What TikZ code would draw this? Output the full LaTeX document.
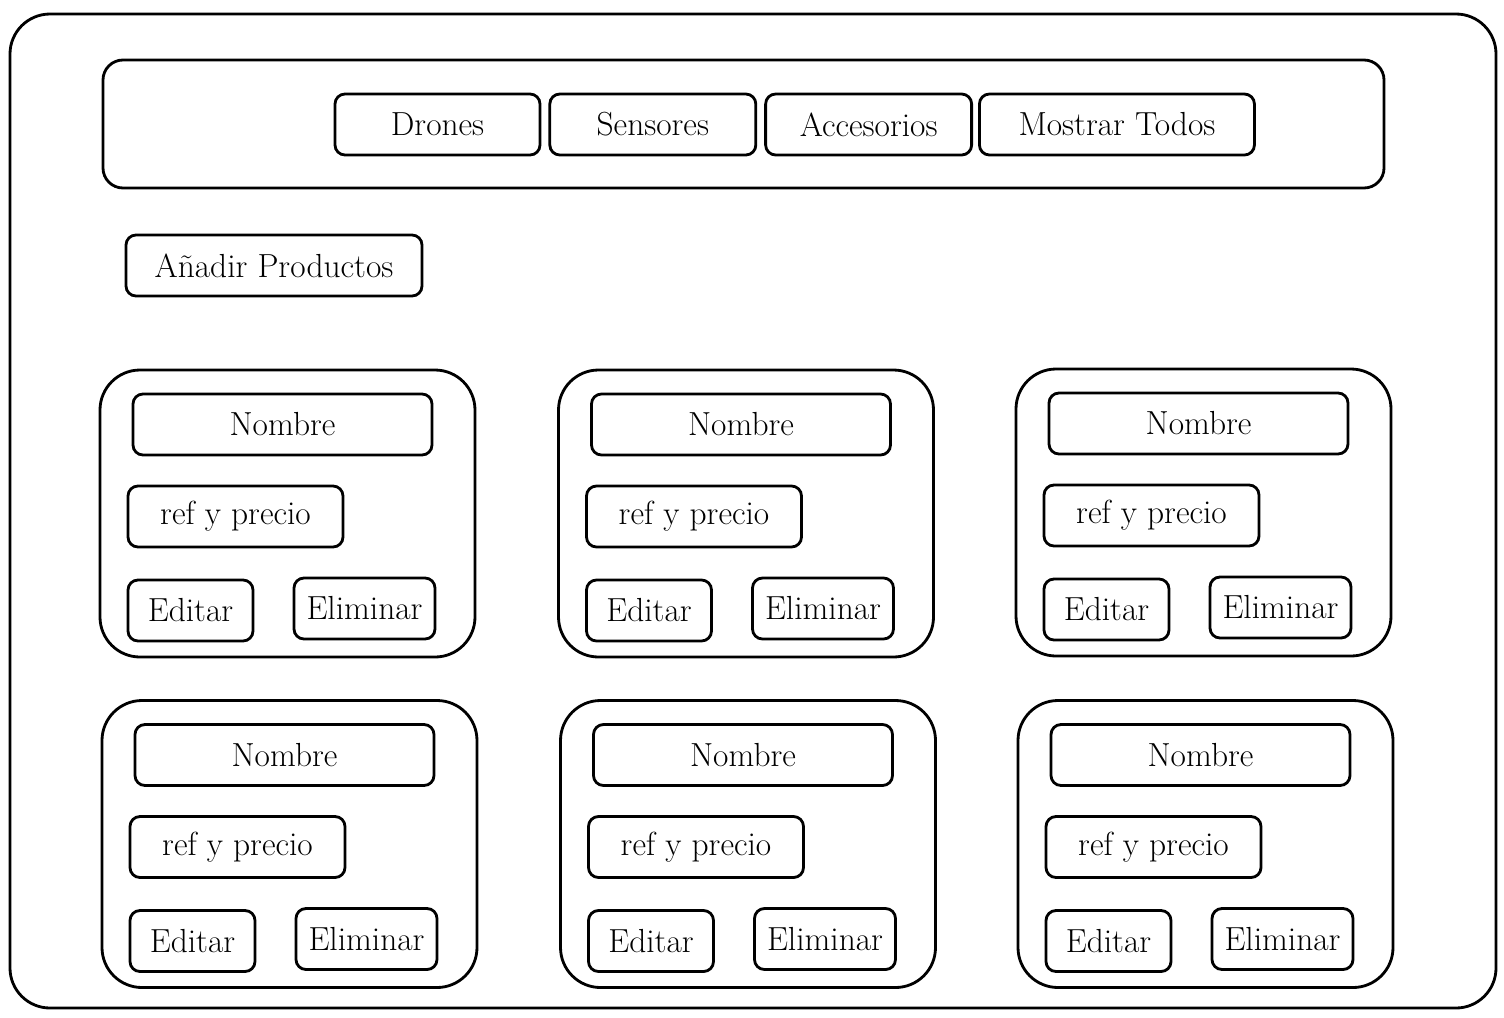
\documentclass[tikz,border=0pt]{standalone}
\usepackage{tikz}
\usetikzlibrary{positioning}
\tikzset{
  panel/.style={rectangle, draw, line width=1.6pt, rounded corners=0.8cm, inner sep=0pt},
  btn/.style={rectangle, draw, line width=1.6pt, rounded corners=0.2cm, minimum height=1.22cm, inner sep=0pt, align=center, font=\fontsize{19}{22}\selectfont},
}

\begin{document}
\begin{tikzpicture}
    \useasboundingbox (0,0) rectangle (30.08,-20.34);
    \node[panel, minimum width=29.72cm, minimum height=19.88cm] (frame) at (15.06,-10.22) {};
    \node[panel, rounded corners=0.4cm, minimum width=25.62cm, minimum height=2.56cm] (navbar) at (14.87,-2.48) {};
    \node[btn, minimum width=4.1cm] (drones) at (8.75,-2.49) {Drones};
    \node[btn, minimum width=4.12cm, right=0.14cm of drones] (sensores) {Sensores};
    \node[btn, minimum width=4.12cm, right=0.14cm of sensores] (accesorios) {Accesorios};
    \node[btn, minimum width=5.5cm, right=0.1cm of accesorios] (todos) {Mostrar Todos};
    \node[btn, minimum width=5.92cm] (anadir) at (5.48,-5.31) {Añadir Productos};
    \foreach \n/\x/\y in {1/5.75/-10.27, 2/14.92/-10.27, 3/24.07/-10.25, 4/5.79/-16.88, 5/14.96/-16.88, 6/24.11/-16.88} {
      \node[panel, minimum width=7.5cm, minimum height=5.74cm] (card\n) at (\x,\y) {};
      \node[btn, minimum width=5.98cm, below=0.48cm of card\n.north, xshift=-0.1cm] (nombre\n) {Nombre};
      \node[btn, minimum width=4.3cm, below right=2.32cm and 0.56cm of card\n.north west] (ref\n) {ref y precio};
      \node[btn, minimum width=2.5cm, below right=4.2cm and 0.56cm of card\n.north west] (editar\n) {Editar};
      \node[btn, minimum width=2.82cm, below left=4.16cm and 0.8cm of card\n.north east] (eliminar\n) {Eliminar};
    }
\end{tikzpicture}
\end{document}
